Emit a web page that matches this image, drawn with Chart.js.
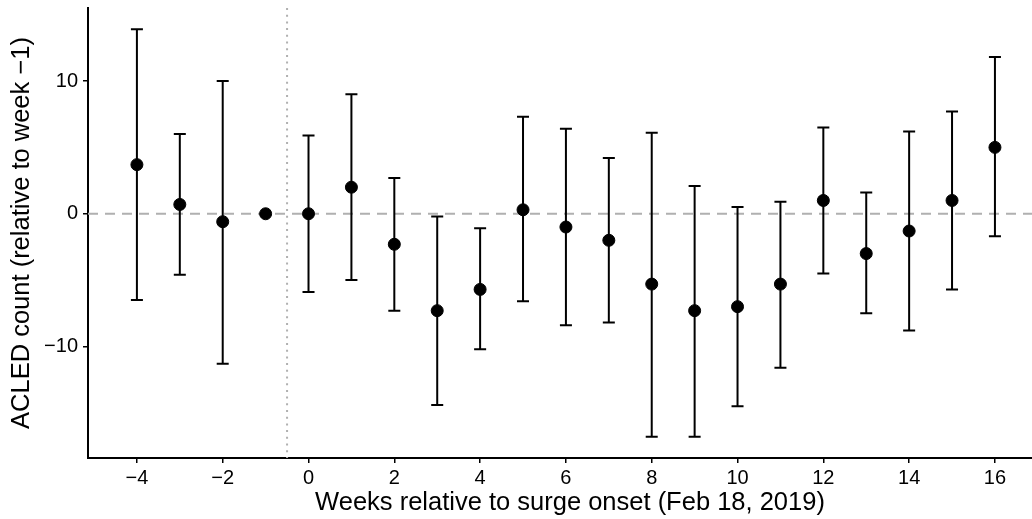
<!DOCTYPE html>
<html>
<head>
<meta charset="utf-8">
<script src="https://cdn.jsdelivr.net/npm/chart.js@4.4.1/dist/chart.umd.min.js"></script>
<style>
  html, body { margin: 0; padding: 0; background: #fff; overflow: hidden; }
  /* panel runs a little past the right edge, as in the original export */
  #wrap { width: 1059px; height: 519px; }
</style>
</head>
<body>
<div id="wrap"><canvas id="chart"></canvas></div>
<script>
// Event-study estimates, weeks relative to surge onset
const weeks     = [-4, -3, -2, -1, 0, 1, 2, 3, 4, 5, 6, 7, 8, 9, 10, 11, 12, 13, 14, 15, 16];
const estimates = [3.7, 0.7, -0.6, 0, 0, 2.0, -2.3, -7.3, -5.7, 0.3, -1.0, -2.0, -5.3, -7.3, -7.0, -5.3, 1.0, -3.0, -1.3, 1.0, 5.0];
const lowerCI   = [-6.5, -4.6, -11.3, null, -5.9, -5.0, -7.3, -14.4, -10.2, -6.6, -8.4, -8.2, -16.8, -16.8, -14.5, -11.6, -4.5, -7.5, -8.8, -5.7, -1.7];
const upperCI   = [13.9, 6.0, 10.0, null, 5.9, 9.0, 2.7, -0.2, -1.1, 7.3, 6.4, 4.2, 6.1, 2.1, 0.5, 0.9, 6.5, 1.6, 6.2, 7.7, 11.8];

const xTicks = [-4, -2, 0, 2, 4, 6, 8, 10, 12, 14, 16];
const yTicks = [-10, 0, 10];
const onsetWeek = -0.5;
const capWidth = 0.28;

const minus = v => String(v).replace('-', '\u2212');

const errorBars = {
  id: 'errorBars',
  beforeDatasetsDraw(chart) {
    const { ctx, chartArea: a, scales: { x, y } } = chart;
    ctx.save();
    ctx.beginPath();
    ctx.rect(a.left, a.top, a.right - a.left, a.bottom - a.top);
    ctx.clip();

    // zero reference line
    const y0 = y.getPixelForValue(0);
    ctx.strokeStyle = '#b0b0b0';
    ctx.lineWidth = 2;
    ctx.setLineDash([10, 7]);
    ctx.beginPath();
    ctx.moveTo(a.left, y0);
    ctx.lineTo(a.right, y0);
    ctx.stroke();

    // onset line
    const xo = x.getPixelForValue(onsetWeek);
    ctx.setLineDash([2, 4.7]);
    ctx.beginPath();
    ctx.moveTo(xo, a.top);
    ctx.lineTo(xo, a.bottom);
    ctx.stroke();

    // confidence intervals
    ctx.setLineDash([]);
    ctx.strokeStyle = '#000';
    ctx.lineWidth = 2;
    const half = (x.getPixelForValue(capWidth) - x.getPixelForValue(0)) / 2;
    weeks.forEach((w, i) => {
      if (lowerCI[i] === null) return;
      const px = x.getPixelForValue(w);
      const lo = y.getPixelForValue(lowerCI[i]);
      const hi = y.getPixelForValue(upperCI[i]);
      ctx.beginPath();
      ctx.moveTo(px, lo); ctx.lineTo(px, hi);
      ctx.moveTo(px - half, lo); ctx.lineTo(px + half, lo);
      ctx.moveTo(px - half, hi); ctx.lineTo(px + half, hi);
      ctx.stroke();
    });
    ctx.restore();
  }
};

Chart.defaults.font.family = "'Liberation Sans', Arial, sans-serif";
Chart.defaults.color = '#000';

new Chart(document.getElementById('chart'), {
  type: 'scatter',
  data: {
    datasets: [{
      data: weeks.map((w, i) => ({ x: w, y: estimates[i] })),
      backgroundColor: '#000',
      borderColor: '#000',
      pointRadius: 6,
      pointHoverRadius: 6
    }]
  },
  options: {
    responsive: true,
    maintainAspectRatio: false,
    animation: false,
    events: [],
    layout: { padding: { top: 8, right: 0, left: 0, bottom: 0 } },
    plugins: { legend: { display: false }, tooltip: { enabled: false } },
    scales: {
      x: {
        type: 'linear',
        min: -5.14,
        max: 17.33,
        afterBuildTicks: s => { s.ticks = xTicks.map(v => ({ value: v })); },
        afterFit: s => { s.height = 61; s.paddingLeft = 0; s.paddingRight = 0; },
        border: { display: true, color: '#000', width: 2 },
        grid: { display: true, drawOnChartArea: false, color: '#000', tickColor: '#000', tickLength: 5, lineWidth: 1.5 },
        ticks: { font: { size: 20 }, padding: 3, callback: v => minus(v), maxRotation: 0 },
        title: { display: true, text: 'Weeks relative to surge onset (Feb 18, 2019)', font: { size: 25.5 }, padding: { top: 0, bottom: 1 } }
      },
      y: {
        type: 'linear',
        min: -18.4,
        max: 15.5,
        afterBuildTicks: s => { s.ticks = yTicks.map(v => ({ value: v })); },
        afterFit: s => { s.width = 88; s.paddingTop = 0; s.paddingBottom = 0; },
        border: { display: true, color: '#000', width: 2 },
        grid: { display: true, drawOnChartArea: false, color: '#000', tickColor: '#000', tickLength: 5, lineWidth: 1.5 },
        ticks: { font: { size: 20 }, padding: 5, callback: v => minus(v) },
        title: { display: true, text: 'ACLED count (relative to week \u22121)', font: { size: 25.5 }, padding: { top: 7, bottom: 0 } }
      }
    }
  },
  plugins: [errorBars]
});
</script>
</body>
</html>
